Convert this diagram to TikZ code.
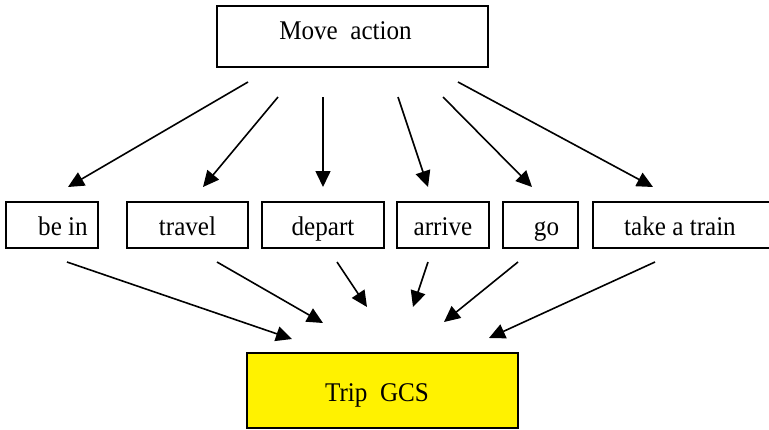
\documentclass[tikz,border=0pt]{standalone}
\usepackage{fontspec}
\setmainfont{Liberation Serif}[FakeStretch=0.93]
\usetikzlibrary{arrows.meta}
\begin{document}
\begin{tikzpicture}[x=1pt,y=-1pt,
  box/.style={draw, line width=1.9pt, inner sep=0pt,
    font=\fontsize{27}{30}\selectfont, text depth=0pt},
  rowbox/.style={box, minimum height=46pt, text height=21pt},
  link/.style={line width=1.6pt, -{Triangle[length=16pt,width=15pt]}}]
\useasboundingbox (0,0) rectangle (769,429);

% top concept
\node[box, minimum width=271pt, minimum height=61pt, text height=5.6pt]
  (move) at (352.5,36.5) {Move~~action\hspace*{14pt}};

% verbs
\node[rowbox, minimum width=92pt]  (bein)   at (52,225)    {\hspace*{22pt}be in};
\node[rowbox, minimum width=121pt] (travel) at (187.5,225) {travel};
\node[rowbox, minimum width=122pt] (depart) at (323,225)   {depart};
\node[rowbox, minimum width=92pt]  (arrive) at (443,225)   {arrive};
\node[rowbox, minimum width=75pt]  (go)     at (540.5,225) {\hspace*{12pt}go};
\node[rowbox, minimum width=178pt] (train)  at (682,225)   {take a train\hspace*{4pt}};

% target
\node[box, fill=yellow, minimum width=271pt, minimum height=75pt, text height=21pt]
  (trip) at (382.5,390.5) {Trip~~GCS\hspace*{11pt}};

% connector ends, upper fan
\coordinate (u1s) at (248,82);  \coordinate (u1e) at (68,187);
\coordinate (u2s) at (278,97);  \coordinate (u2e) at (203,187);
\coordinate (u3s) at (323,97);  \coordinate (u3e) at (323,187);
\coordinate (u4s) at (398,97);  \coordinate (u4e) at (428,187);
\coordinate (u5s) at (443,97);  \coordinate (u5e) at (532,187);
\coordinate (u6s) at (458,82);  \coordinate (u6e) at (653,187);

% connector ends, lower fan
\coordinate (l1s) at (67,262);  \coordinate (l1e) at (292,339);
\coordinate (l2s) at (217,262); \coordinate (l2e) at (323,323);
\coordinate (l3s) at (337,262); \coordinate (l3e) at (367,307);
\coordinate (l4s) at (428,262); \coordinate (l4e) at (413,307);
\coordinate (l5s) at (518,262); \coordinate (l5e) at (444,322);
\coordinate (l6s) at (655,262); \coordinate (l6e) at (489,338);

\foreach \i in {1,...,6} {
  \draw[link] (u\i s) -- (u\i e);
  \draw[link] (l\i s) -- (l\i e);
}
\end{tikzpicture}
\end{document}
